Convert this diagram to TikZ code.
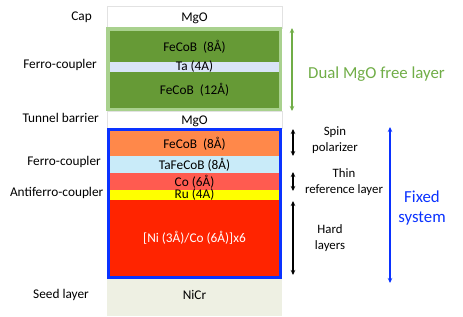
\documentclass[tikz,border=0pt]{standalone}
\usepackage{fontspec}
\setmainfont{Carlito}
\usetikzlibrary{arrows.meta}
\definecolor{dkgreen}{HTML}{669A36}
\definecolor{ltgreen}{HTML}{A9D18E}
\definecolor{tablue}{HTML}{D9E4F7}
\definecolor{txtgreen}{HTML}{70AD47}
\definecolor{orangel}{HTML}{FF884A}
\definecolor{skyl}{HTML}{C9EBF9}
\definecolor{col}{HTML}{FF5B50}
\definecolor{yel}{HTML}{FFFF00}
\definecolor{redl}{HTML}{FF2400}
\definecolor{frameblue}{HTML}{0A32FF}
\definecolor{seed}{HTML}{EEF0E3}
\definecolor{capline}{HTML}{E2E2E2}
\tikzset{
  layer/.style={anchor=north west, inner sep=0pt, outer sep=0pt},
  lbl/.style={inner sep=0pt, font=\fontsize{13.3}{15}\selectfont},
  rlbl/.style={inner sep=0pt, align=center, font=\fontsize{12.8}{16}\selectfont},
  big/.style={inner sep=0pt, align=center, font=\fontsize{16.8}{20}\selectfont},
  dbl/.style={{Stealth[length=5pt,width=4.5pt]}-{Stealth[length=5pt,width=4.5pt]}, line width=1.5pt}
}
\begin{document}
\begin{tikzpicture}[x=1pt,y=-1pt]
\useasboundingbox (0,0) rectangle (463,316);
% cap
\node[layer, draw=capline, fill=white, minimum width=175pt, minimum height=22pt] (cap) at (107,6) {};
\node[lbl] (capt) at (194.5,18) {MgO};
% green frame
\node[layer, fill=ltgreen, minimum width=176pt, minimum height=84pt] (gframe) at (106,27) {};
\node[layer, fill=dkgreen, minimum width=169pt, minimum height=31pt] (fe1) at (110,31) {};
\node[lbl] at (fe1.center) {FeCoB\ \ (8Å)};
\node[layer, fill=tablue, minimum width=169pt, minimum height=10pt] (ta) at (110,62) {};
\node[lbl] at (194.5,66.5) {Ta (4A)};
\node[layer, fill=dkgreen, minimum width=169pt, minimum height=36pt] (fe2) at (110,72) {};
\node[lbl] at (fe2.center) {FeCoB\ \ (12Å)};
% tunnel barrier
\node[layer, draw=capline, fill=white, minimum width=175pt, minimum height=17pt] (tb) at (107,111) {};
\node[lbl] at (194.5,121) {MgO};
% blue frame
\node[layer, fill=frameblue, minimum width=175pt, minimum height=151pt] (bframe) at (107,128) {};
\node[layer, fill=orangel, minimum width=169pt, minimum height=25pt] (fe3) at (110,131) {};
\node[lbl] at (fe3.center) {FeCoB\ \ (8Å)};
\node[layer, fill=skyl, minimum width=169pt, minimum height=17pt] (tafe) at (110,156) {};
\node[lbl] at (tafe.center) {TaFeCoB (8Å)};
\node[layer, fill=col, minimum width=169pt, minimum height=17pt] (co) at (110,173) {};
\node[lbl] at (194.5,182) {Co (6Å)};
\node[layer, fill=yel, minimum width=169pt, minimum height=10pt] (ru) at (110,190) {};
\node[lbl] at (194.5,194.5) {Ru (4A)};
\node[layer, fill=redl, minimum width=169pt, minimum height=76pt] (nico) at (110,200) {};
\node[lbl, text=white] at (nico.center) {[Ni (3Å)/Co (6Å)]x6};
% seed
\node[layer, fill=seed, minimum width=175pt, minimum height=37pt] (nicr) at (107,279) {};
\node[lbl] at (194.5,295) {NiCr};
% left labels
\node[lbl, anchor=east] (l1) at (92,17) {Cap};
\node[lbl, anchor=east] (l2) at (97,65) {Ferro-coupler};
\node[lbl, anchor=east] (l3) at (99,118) {Tunnel barrier};
\node[lbl, anchor=east] (l4) at (101,162) {Ferro-coupler};
\node[lbl, anchor=east] (l5) at (103.5,193) {Antiferro-coupler};
\node[lbl, anchor=east] (l6) at (89,295) {Seed layer};
% arrows
\coordinate (ga) at (292,28); \coordinate (gb) at (292,111);
\draw[dbl, draw=txtgreen, fill=txtgreen] (ga) -- (gb);
\node[big, text=txtgreen] (dual) at (376.5,74) {Dual MgO free layer};
\coordinate (s1) at (293,129); \coordinate (s2) at (293,156);
\draw[dbl] (s1) -- (s2);
\coordinate (t1) at (293,172); \coordinate (t2) at (293,191);
\draw[dbl] (t1) -- (t2);
\coordinate (h1) at (293,201); \coordinate (h2) at (293,275);
\draw[dbl] (h1) -- (h2);
\coordinate (f1) at (390,127); \coordinate (f2) at (390,283);
\draw[dbl, draw=frameblue, fill=frameblue] (f1) -- (f2);
\node[rlbl] (spin) at (335,140) {Spin\\polarizer};
\node[rlbl] (thin) at (344,182) {Thin\\reference layer};
\node[rlbl] (hard) at (330,238.5) {Hard\\layers};
\node[big, text=frameblue] (fixed) at (422,208) {Fixed\\system};
\end{tikzpicture}
\end{document}
